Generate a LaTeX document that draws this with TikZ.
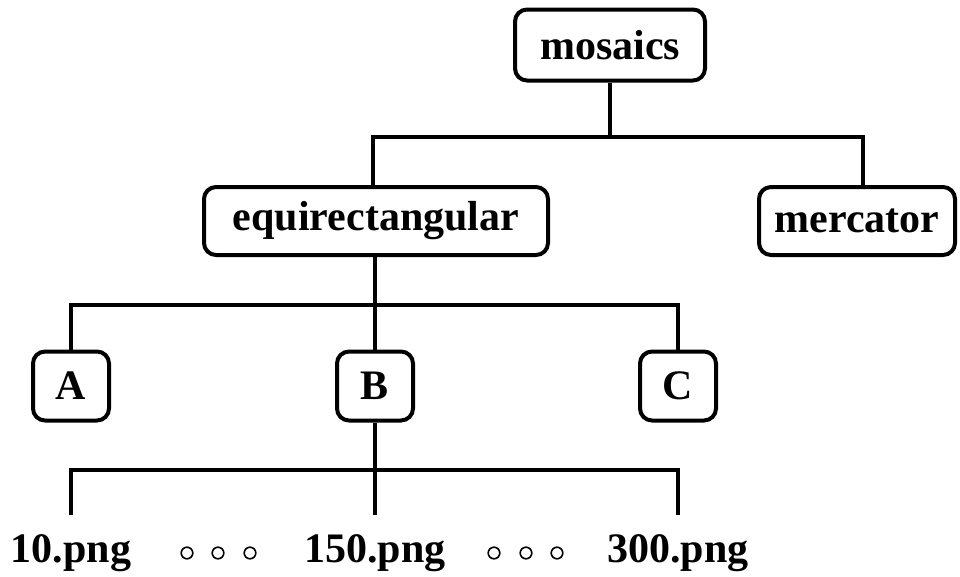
\documentclass[tikz,border=0pt]{standalone}
\usepackage{fontspec}
\setmainfont{Liberation Serif}
\begin{document}
\begin{tikzpicture}[x=1pt,y=-1pt,
  box/.style={draw, line width=4pt, rounded corners=12pt, inner sep=0pt, align=center,
    font=\fontsize{42}{50}\selectfont\bfseries},
  lbl/.style={inner sep=0pt, anchor=base, font=\fontsize{42}{50}\selectfont\bfseries},
  conn/.style={line width=4pt},
  dot/.style={line width=1.6pt}]
\useasboundingbox (0,0) rectangle (960,576);
\node[box, minimum width=190pt, minimum height=71pt] (mos) at (610,45) {mosaics};
\node[box, minimum width=344pt, minimum height=68pt] (equi) at (376,221) {equirectangular};
\node[box, minimum width=196pt, minimum height=68pt] (merc) at (857,221) {mercator};
\node[box, minimum width=76pt, minimum height=69pt] (A) at (71,386) {A};
\node[box, minimum width=76pt, minimum height=69pt] (B) at (375,386) {B};
\node[box, minimum width=76pt, minimum height=69pt] (C) at (678,386) {C};
\node[lbl] (f10) at (71,562) {10.png};
\node[lbl] (f150) at (375,562) {150.png};
\node[lbl] (f300) at (678,562) {300.png};
\coordinate (j1) at (610,137);
\coordinate (j2) at (375,305);
\coordinate (j3) at (375,470);
\draw[conn] (mos.south) -- (j1);
\draw[conn] (equi.north -| 373,0) |- (j1) -| (863,0 |- merc.north);
\draw[conn] (equi.south -| j2) -- (j2);
\draw[conn] (A.north) |- (j2) -| (C.north);
\draw[conn] (j2) -- (B.north);
\draw[conn] (B.south) -- (j3);
\draw[conn] (71,515) |- (j3) -| (678,515);
\draw[conn] (j3) -- (375,515);
\foreach \x in {187,218,250,494,526,557} \draw[dot] (\x,553) circle (5.8pt);
\end{tikzpicture}
\end{document}
